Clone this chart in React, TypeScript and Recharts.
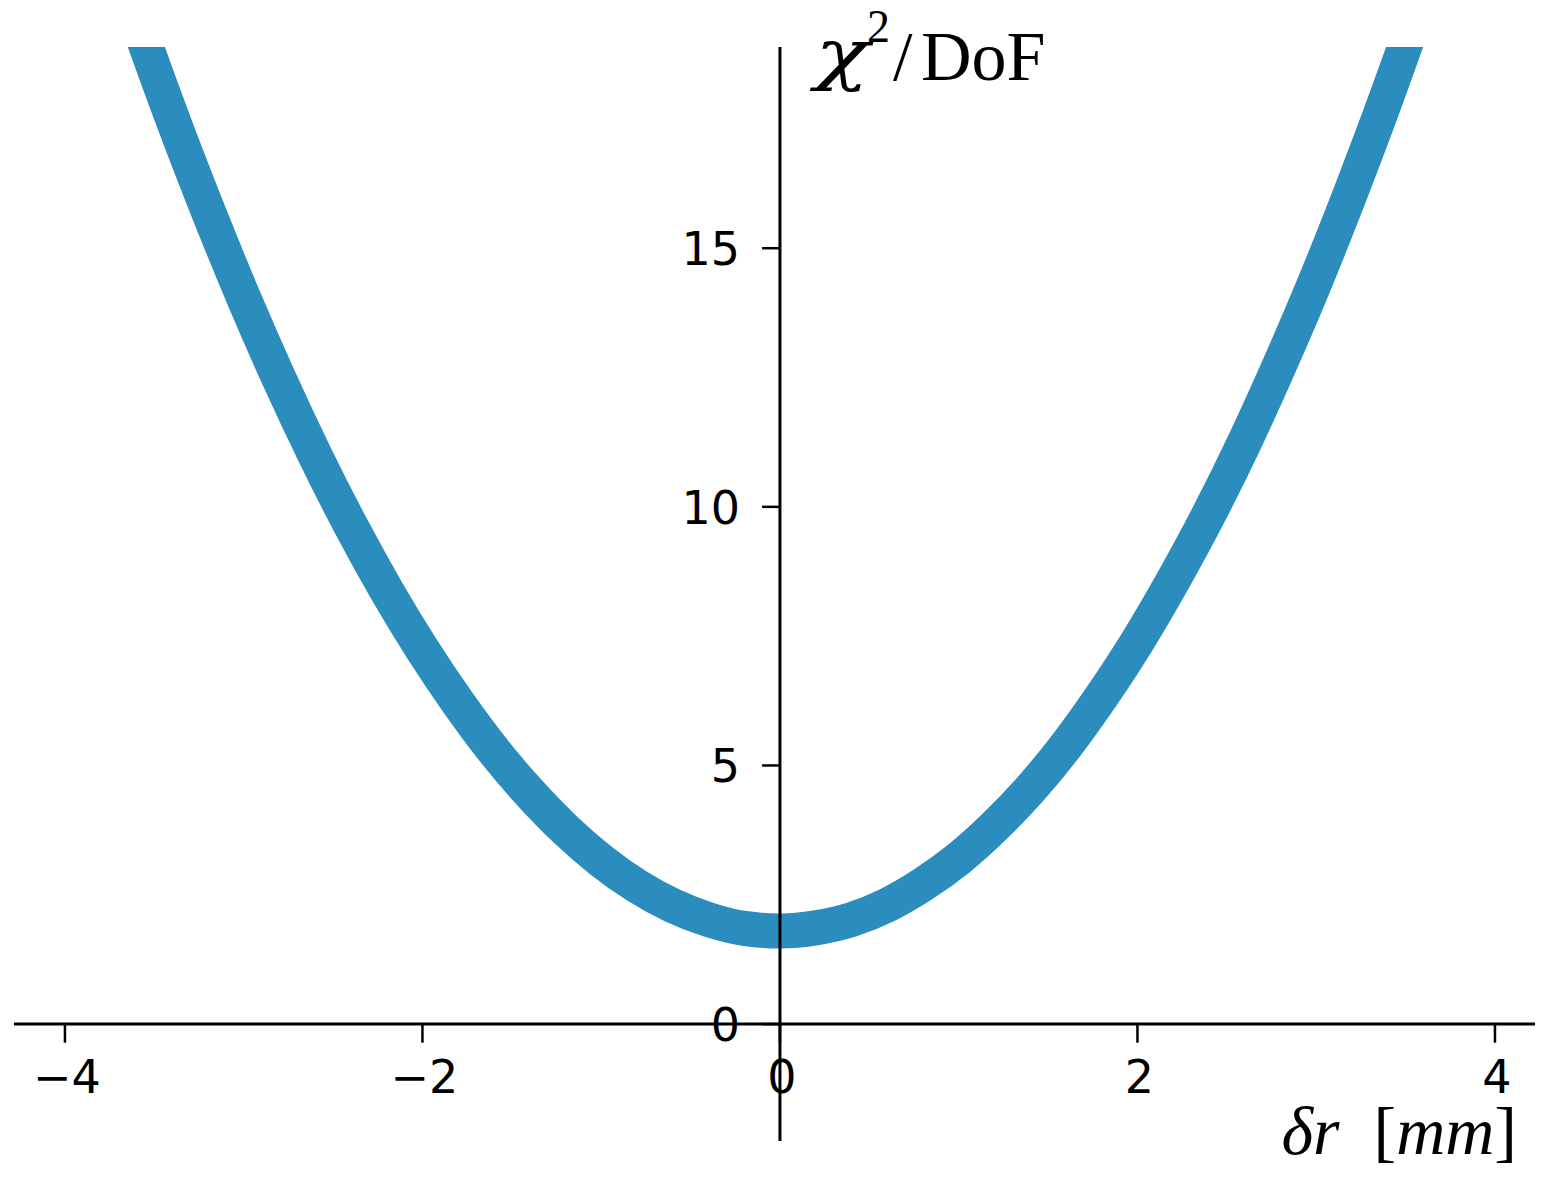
import React from 'react';
import { LineChart, Line, XAxis, YAxis, ReferenceLine, ReferenceDot } from 'recharts';

// values
const deltaR = [
  -3.8, -3.6, -3.4, -3.2, -3.0, -2.8, -2.6, -2.4, -2.2, -2.0, -1.8, -1.6, -1.4, -1.2, -1.0, -0.8, -0.6, -0.4, -0.2, 0,
  0.2, 0.4, 0.6, 0.8, 1.0, 1.2, 1.4, 1.6, 1.8, 2.0, 2.2, 2.4, 2.6, 2.8, 3.0, 3.2, 3.4, 3.6, 3.8,
];
const chi2PerDof = [
  21.44, 19.43, 17.52, 15.73, 14.04, 12.46, 10.99, 9.63, 8.38, 7.24, 6.21, 5.28, 4.47, 3.76, 3.16, 2.67, 2.29, 2.02, 1.85, 1.8,
  1.86, 2.02, 2.3, 2.7, 3.2, 3.82, 4.54, 5.38, 6.34, 7.4, 8.58, 9.86, 11.26, 12.78, 14.4, 16.14, 17.98, 19.94, 22.02,
];
const xTicks = [-4, -2, 0, 2, 4];
const yTicks = [0, 5, 10, 15];

const X_DOMAIN: [number, number] = [-4.285, 4.224];
const Y_DOMAIN: [number, number] = [-2.26, 18.89];

const BLUE = '#2b8cbe';
const TICK_FONT = 'DejaVu Sans';
const TITLE_FONT = 'Liberation Serif';

const data = deltaR.map((x, i) => ({ x, chi2: chi2PerDof[i] }));

const fmt = (v: number) => (v < 0 ? `\u2212${Math.abs(v)}` : `${v}`);

const xTickLabel = (value: number) => (props: any) => {
  const { x, y } = props.viewBox;
  return (
    <text x={x + 2} y={y + 69} textAnchor="middle" fontFamily={TICK_FONT} fontSize={46} fill="#000">
      {fmt(value)}
    </text>
  );
};

const yTickLabel = (value: number) => (props: any) => {
  const { x, y } = props.viewBox;
  return (
    <text x={x - 40} y={y + 17} textAnchor="end" fontFamily={TICK_FONT} fontSize={46} fill="#000">
      {fmt(value)}
    </text>
  );
};

const YTitle = (props: any) => {
  const { x, y } = props.viewBox;
  return (
    <text y={y + 33} fontFamily={TITLE_FONT} fontSize={70} fill="#000">
      <tspan
        x={x + 35}
        y={y + 30}
        fontFamily="DejaVu Serif"
        fontStyle="italic"
        fontSize={68}
        textLength={54}
        lengthAdjust="spacingAndGlyphs"
      >
        χ
      </tspan>
      <tspan x={x + 87} y={y - 5} fontSize={46}>2</tspan>
      <tspan x={x + 113} y={y + 33}>/</tspan>
      <tspan x={x + 141}>DoF</tspan>
    </text>
  );
};

const XTitle = (props: any) => {
  const { x, y } = props.viewBox;
  return (
    <text x={x - 18} y={y + 13} textAnchor="end" fontFamily={TITLE_FONT} fontSize={68} fill="#000">
      <tspan fontStyle="italic">δr</tspan>
      <tspan>{'\u00a0\u00a0['}</tspan>
      <tspan fontStyle="italic">mm</tspan>
      <tspan>]</tspan>
    </text>
  );
};

export default function App() {
  return (
    <div style={{ position: 'absolute', left: 0, top: 0, background: '#fff' }}>
      <LineChart width={1548} height={1182} data={data} margin={{ top: 47, right: 13, bottom: 41, left: 14 }}>
        <XAxis dataKey="x" type="number" domain={X_DOMAIN} allowDataOverflow hide />
        <YAxis type="number" domain={Y_DOMAIN} allowDataOverflow hide />
        <Line
          dataKey="chi2"
          type="monotone"
          stroke={BLUE}
          strokeWidth={35}
          strokeLinecap="round"
          strokeLinejoin="round"
          dot={false}
          activeDot={false}
          isAnimationActive={false}
        />
        <ReferenceLine y={0} stroke="#000" strokeWidth={3} />
        <ReferenceLine x={0} stroke="#000" strokeWidth={3} />
        {xTicks.map((t) => (
          <ReferenceLine
            key={`xt${t}`}
            segment={[{ x: t, y: 0 }, { x: t, y: -0.36 }]}
            stroke="#000"
            strokeWidth={2.5}
          />
        ))}
        {yTicks.map((t) => (
          <ReferenceLine
            key={`yt${t}`}
            segment={[{ x: 0, y: t }, { x: -0.1, y: t }]}
            stroke="#000"
            strokeWidth={2.5}
          />
        ))}
        {xTicks.map((t) => (
          <ReferenceDot key={`xl${t}`} x={t} y={0} r={0} fill="none" stroke="none" label={xTickLabel(t)} />
        ))}
        {yTicks.map((t) => (
          <ReferenceDot key={`yl${t}`} x={0} y={t} r={0} fill="none" stroke="none" label={yTickLabel(t)} />
        ))}
        <ReferenceDot x={0} y={Y_DOMAIN[1]} r={0} fill="none" stroke="none" ifOverflow="visible" label={YTitle} />
        <ReferenceDot x={X_DOMAIN[1]} y={Y_DOMAIN[0]} r={0} fill="none" stroke="none" ifOverflow="visible" label={XTitle} />
      </LineChart>
    </div>
  );
}
